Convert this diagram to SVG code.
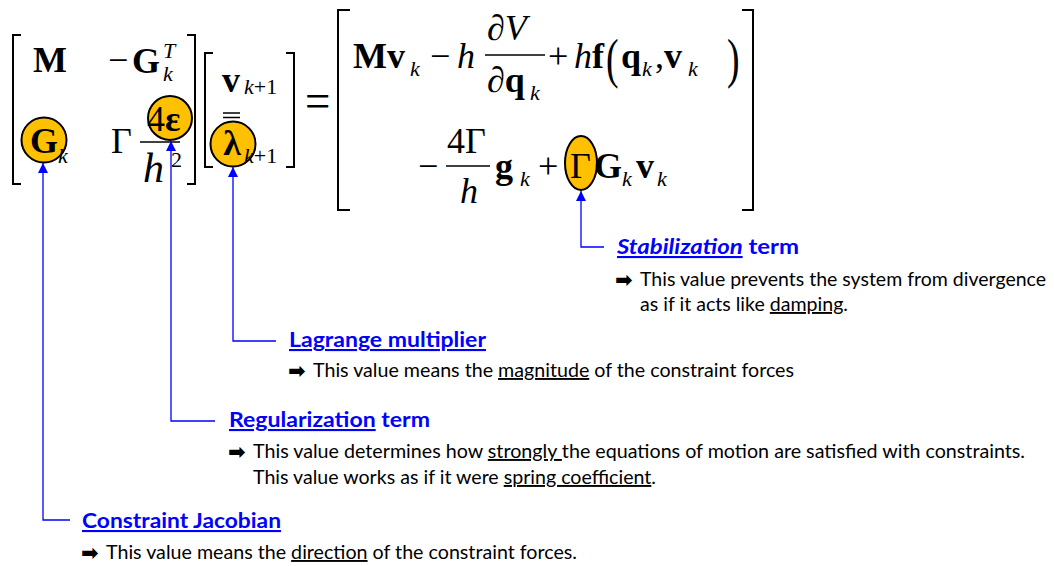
<svg xmlns="http://www.w3.org/2000/svg" width="1054" height="566" viewBox="0 0 1054 566">
<style>
.m{font-family:"Liberation Serif","Times New Roman",serif;font-size:36px;fill:#000}
.b{font-weight:bold}
.i{font-style:italic}
.s{font-size:22px}
.br{fill:none;stroke:#000;stroke-width:2}
.bar{stroke:#000;stroke-width:1.5}
.hl{fill:#FFC000;stroke:#000;stroke-width:2}
.con{fill:none;stroke:#0000ff;stroke-width:1.3;marker-end:url(#ah)}
.h{font-family:Lato,"Open Sans",sans-serif;font-weight:bold;font-size:21px;fill:#0000ff}
.t{font-family:Lato,"Open Sans",sans-serif;font-size:19px;fill:#000}
.ar{font-family:"DejaVu Sans",sans-serif;font-weight:bold;font-size:21px;fill:#000}
.u{text-decoration:underline}
</style>
<defs>
<marker id="ah" viewBox="0 0 10 10" refX="10" refY="5" markerWidth="10" markerHeight="10" markerUnits="userSpaceOnUse" orient="auto">
<path d="M0,0 L10,5 L0,10 Z" fill="#0000ff"/>
</marker>
</defs>

<g id="equation">
<!-- brackets -->
<path class="br" d="M21,35 H13 V184 H21"/>
<path class="br" d="M187,35 H195 V184 H187"/>
<path class="br" d="M213,53 H205 V167 H213"/>
<path class="br" d="M286,53 H294 V167 H286"/>
<path class="br" d="M350,10 H338 V210 H350"/>
<path class="br" d="M742,10 H753 V210 H742"/>
<!-- highlight shapes -->
<circle class="hl" cx="44" cy="140" r="22.5"/>
<circle class="hl" cx="170" cy="118" r="22"/>
<circle class="hl" cx="233" cy="144" r="22.5"/>
<ellipse class="hl" cx="581" cy="163" rx="16" ry="27"/>
<!-- fraction bars and small lines -->
<line class="bar" x1="140" y1="142" x2="180" y2="142"/>
<line class="bar" x1="223" y1="113" x2="240" y2="113"/>
<line class="bar" x1="223" y1="117.5" x2="240" y2="117.5"/>
<line class="bar" x1="485" y1="55" x2="545" y2="55"/>
<line class="bar" x1="446" y1="166" x2="490" y2="166"/>
<!-- left matrix and vector -->
<text class="m b" x="33" y="72">M</text>
<text class="m" x="108" y="72">−</text>
<text class="m b" x="132" y="73">G</text>
<text class="m i s" x="163" y="58">T</text>
<text class="m i s" x="163" y="81">k</text>
<text class="m b" x="44" y="153" text-anchor="middle">G</text>
<text class="m i s" x="58" y="163">k</text>
<text class="m" x="111" y="153">Γ</text>
<text class="m" x="147" y="131">4<tspan class="b">ε</tspan></text>
<text class="m i" x="143" y="182" style="font-size:42px">h</text>
<text class="m s" x="171" y="167">2</text>
<text class="m b" x="222" y="92">v</text>
<text class="m s" x="244" y="94"><tspan class="i">k</tspan>+1</text>
<text class="m b" x="232" y="155" text-anchor="middle">λ</text>
<text class="m s" x="244" y="163"><tspan class="i">k</tspan>+1</text>
<text class="m" transform="translate(305,118) scale(0.9,1)" style="font-size:50px">=</text>
<!-- right-hand side -->
<text class="m b" x="353" y="68">Mv</text>
<text class="m i s" x="410" y="76">k</text>
<text class="m" x="430" y="68">−</text>
<text class="m i" x="457" y="68">h</text>
<text class="m" x="487" y="40">∂<tspan class="i">V</tspan></text>
<text class="m" x="487" y="92">∂<tspan class="b">q</tspan></text>
<text class="m i s" x="530" y="100">k</text>
<text class="m" x="548" y="68">+</text>
<text class="m" x="574" y="68"><tspan class="i">h</tspan><tspan class="b">f</tspan></text>
<text class="m" transform="translate(606,77) scale(0.7,1)" style="font-size:54px">(</text>
<text class="m b" x="621" y="68">q</text>
<text class="m i s" x="642" y="76">k</text>
<text class="m" x="655" y="68">,</text>
<text class="m b" x="664" y="68">v</text>
<text class="m i s" x="688" y="76">k</text>
<text class="m" transform="translate(727,77) scale(0.7,1)" style="font-size:54px">)</text>
<text class="m" x="418" y="178">−</text>
<text class="m" x="447" y="153">4Γ</text>
<text class="m i" x="460" y="203">h</text>
<text class="m b" x="495" y="178">g</text>
<text class="m i s" x="520" y="186">k</text>
<text class="m" x="538" y="178">+</text>
<text class="m" x="570" y="178">Γ</text>
<text class="m b" x="594" y="178">G</text>
<text class="m i s" x="622" y="186">k</text>
<text class="m b" x="636" y="178">v</text>
<text class="m i s" x="657" y="186">k</text>
</g>

<g id="connectors">
<path class="con" d="M70,520 H43 V163"/>
<path class="con" d="M215,421 H171 V141"/>
<path class="con" d="M276,341 H233 V167"/>
<path class="con" d="M604,247 H581 V191"/>
</g>

<g id="stabilization">
<text class="h" x="617" y="254" textLength="182" lengthAdjust="spacingAndGlyphs"><tspan class="u" font-style="italic">Stabilization</tspan> term</text>
<text class="ar" x="615" y="287">➡</text>
<text class="t" x="640" y="286" textLength="406" lengthAdjust="spacingAndGlyphs">This value prevents the system from divergence</text>
<text class="t" x="640" y="311" textLength="208" lengthAdjust="spacingAndGlyphs">as if it acts like <tspan class="u">damping</tspan>.</text>
</g>

<g id="lagrange">
<text class="h u" x="289" y="347" textLength="197" lengthAdjust="spacingAndGlyphs">Lagrange multiplier</text>
<text class="ar" x="288" y="378">➡</text>
<text class="t" x="313" y="377" textLength="481" lengthAdjust="spacingAndGlyphs">This value means the <tspan class="u">magnitude</tspan> of the constraint forces</text>
</g>

<g id="regularization">
<text class="h" x="229" y="427" textLength="201" lengthAdjust="spacingAndGlyphs"><tspan class="u">Regularization</tspan> term</text>
<text class="ar" x="228" y="459">➡</text>
<text class="t" x="253" y="458" textLength="772" lengthAdjust="spacingAndGlyphs">This value determines how <tspan class="u">strongly </tspan>the equations of motion are satisfied with constraints.</text>
<text class="t" x="253" y="484" textLength="403" lengthAdjust="spacingAndGlyphs">This value works as if it were <tspan class="u">spring coefficient</tspan>.</text>
</g>

<g id="jacobian">
<text class="h u" x="82" y="528" textLength="199" lengthAdjust="spacingAndGlyphs">Constraint Jacobian</text>
<text class="ar" x="81" y="560">➡</text>
<text class="t" x="106" y="559" textLength="471" lengthAdjust="spacingAndGlyphs">This value means the <tspan class="u">direction</tspan> of the constraint forces.</text>
</g>
</svg>
